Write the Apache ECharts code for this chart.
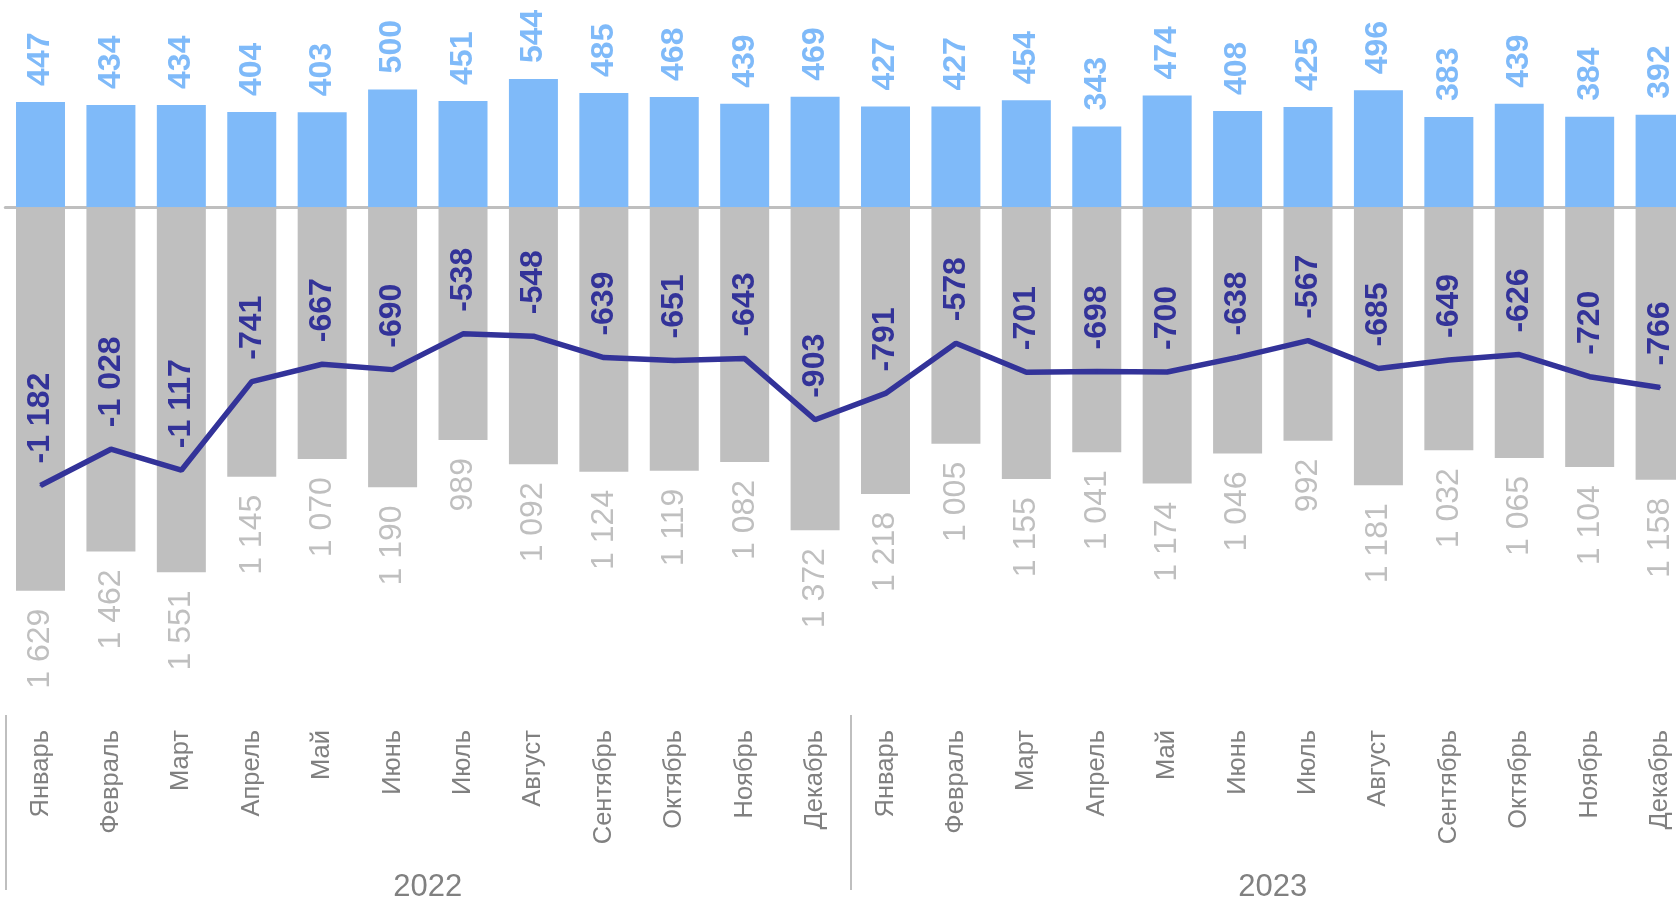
<!DOCTYPE html>
<html>
<head>
<meta charset="utf-8">
<script src="https://cdn.jsdelivr.net/npm/echarts@6/dist/echarts.min.js"></script>
<style>
  html, body { margin: 0; padding: 0; background: #fff; }
  #main { width: 1676px; height: 898px; }
</style>
</head>
<body>
<div id="main"></div>
<script>
// месяцы и годы
var months = ["Январь", "Февраль", "Март", "Апрель", "Май", "Июнь", "Июль", "Август",
  "Сентябрь", "Октябрь", "Ноябрь", "Декабрь"];
var years = ["2022", "2023"];
var categories = months.concat(months);

// приток (синие столбцы)
var inflow = [447, 434, 434, 404, 403, 500, 451, 544, 485, 468, 439, 469,
  427, 427, 454, 343, 474, 408, 425, 496, 383, 439, 384, 392];
// отток (серые столбцы, подписи без минуса)
var outflow = [1629, 1462, 1551, 1145, 1070, 1190, 989, 1092, 1124, 1119, 1082, 1372,
  1218, 1005, 1155, 1041, 1174, 1046, 992, 1181, 1032, 1065, 1104, 1158];
// сальдо (линия)
var net = [-1182, -1028, -1117, -741, -667, -690, -538, -548, -639, -651, -643, -903,
  -791, -578, -701, -698, -700, -638, -567, -685, -649, -626, -720, -766];

var FONT = "'Liberation Sans', Arial, sans-serif";
var BLUE = "#7fbaf9";
var GRAY = "#bfbfbf";
var NAVY = "#333399";

function fmt(v) {
  return String(v).replace(/\B(?=(\d{3})+(?!\d))/g, " ");
}

var chart = echarts.init(document.getElementById("main"));
chart.setOption({
  animation: false,
  textStyle: { fontFamily: FONT },
  grid: {
    left: 5.3,
    top: 7,
    width: 1690,
    height: 624,
    containLabel: false,
    outerBoundsMode: "none"
  },
  xAxis: [
    {
      type: "category",
      data: categories,
      axisLine: { onZero: true, lineStyle: { color: GRAY, width: 3 } },
      axisTick: { show: false },
      axisLabel: { show: false }
    },
    {
      type: "category",
      data: categories,
      position: "bottom",
      offset: 84,
      axisLine: { show: false, onZero: false },
      axisTick: { show: false },
      axisLabel: {
        rotate: 90,
        margin: 15,
        fontSize: 25.5,
        color: "#808080",
        fontFamily: FONT,
        interval: 0
      }
    },
    {
      type: "category",
      data: years,
      position: "bottom",
      offset: 84,
      axisLine: { show: false, onZero: false },
      axisTick: { show: true, length: 175, lineStyle: { color: GRAY, width: 2 } },
      axisLabel: { margin: 157, fontSize: 31, color: "#808080", fontFamily: FONT }
    }
  ],
  yAxis: {
    type: "value",
    min: -1800,
    max: 850,
    show: false,
    splitLine: { show: false }
  },
  series: [
    {
      name: "inflow",
      type: "bar",
      data: inflow,
      barWidth: 49,
      barGap: "-100%",
      itemStyle: { color: BLUE },
      label: {
        show: true,
        position: "top",
        distance: 16,
        rotate: 90,
        align: "left",
        verticalAlign: "middle",
        fontSize: 32,
        fontWeight: "bold",
        color: BLUE,
        formatter: function (p) { return fmt(p.value); }
      }
    },
    {
      name: "outflow",
      type: "bar",
      data: outflow.map(function (v) { return -v; }),
      barWidth: 49,
      barGap: "-100%",
      itemStyle: { color: GRAY },
      label: {
        show: true,
        position: "bottom",
        distance: 18,
        rotate: 90,
        align: "right",
        verticalAlign: "middle",
        fontSize: 32,
        color: GRAY,
        formatter: function (p) { return fmt(-p.value); }
      }
    },
    {
      name: "net",
      type: "line",
      data: net,
      symbol: "circle",
      symbolSize: 2,
      showSymbol: true,
      itemStyle: { color: NAVY },
      z: 5,
      lineStyle: { color: NAVY, width: 5.5 },
      label: {
        show: true,
        position: "top",
        distance: 21,
        rotate: 90,
        align: "left",
        verticalAlign: "middle",
        fontSize: 32,
        fontWeight: "bold",
        color: NAVY,
        formatter: function (p) { return fmt(p.value); }
      }
    }
  ]
});
</script>
</body>
</html>
